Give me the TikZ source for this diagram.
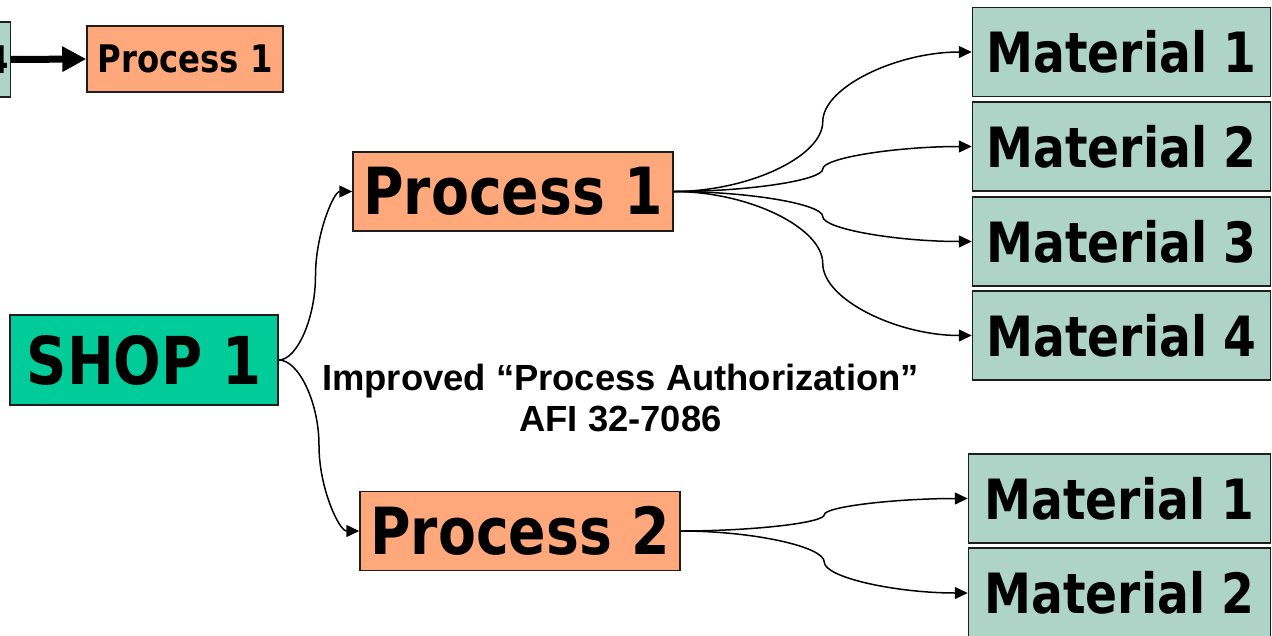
\documentclass[tikz,border=0pt]{standalone}
\usepackage{fontspec}
\newfontfamily\tahfont{DejaVu Sans}[FakeStretch=0.85]
\newfontfamily\arialfont{Liberation Sans}
\usetikzlibrary{calc,arrows.meta}
\definecolor{procfill}{RGB}{255,168,124}
\definecolor{shopfill}{RGB}{0,204,153}
\definecolor{matfill}{RGB}{174,212,200}
\definecolor{edgecol}{RGB}{30,30,30}
\tikzset{
  box/.style={draw=edgecol, line width=1.5pt, rectangle, inner sep=0pt, text=black},
  procbig/.style={box, fill=procfill, minimum width=320pt, minimum height=79pt,
    font=\tahfont\bfseries\fontsize{65pt}{70pt}\selectfont},
  procsmall/.style={box, fill=procfill, minimum width=196pt, minimum height=66pt,
    font=\tahfont\bfseries\fontsize{38pt}{42pt}\selectfont},
  shopbox/.style={box, fill=shopfill, minimum width=268pt, minimum height=90pt,
    font=\tahfont\bfseries\fontsize{66pt}{70pt}\selectfont},
  matbox/.style={box, fill=matfill, minimum width=298pt, minimum height=89pt,
    font=\tahfont\bfseries\fontsize{55.5pt}{60pt}\selectfont},
  conn/.style={draw=black, line width=1.5pt, -{Triangle[length=13pt,width=12pt]}},
  thickconn/.style={draw=black, line width=7pt, -{Triangle[length=24pt,width=24pt]}},
  note/.style={font=\arialfont\bfseries\fontsize{36.4pt}{41pt}\selectfont, align=center, inner sep=0pt}
}
\newcommand{\conncurve}[2]{%
  \draw[conn] let \p1=(#1), \p2=(#2) in
    (\p1) .. controls ({(3*\x1+\x2)/4},\y1) and ({(\x1+\x2)/2},{(3*\y1+\y2)/4})
    .. ({(\x1+\x2)/2},{(\y1+\y2)/2})
    .. controls ({(\x1+\x2)/2},{(\y1+3*\y2)/4}) and ({(\x1+3*\x2)/4},\y2) .. (\p2);}
\begin{document}
\begin{tikzpicture}[x=1pt,y=-1pt]
  \useasboundingbox (0,0) rectangle (1272,635);
  % partial box at top left
  \node[box, fill=matfill, minimum height=75pt, inner xsep=1pt, anchor=east,
    font=\tahfont\bfseries\fontsize{38pt}{42pt}\selectfont] (m4part) at (11,59.5) {Material 4};
  \node[procsmall] (psmall) at (185,59) {Process 1};
  \draw[thickconn] (m4part.east) -- (psmall.west);

  \node[shopbox] (shop) at (144,360) {SHOP 1};
  \node[procbig] (p1) at (513,191.5) {Process 1};
  \node[procbig] (p2) at (520,531) {Process 2};

  \node[matbox] (m1) at (1121.5,52) {Material 1};
  \node[matbox] (m2) at (1121.5,146.5) {Material 2};
  \node[matbox] (m3) at (1121.5,241.5) {Material 3};
  \node[matbox] (m4) at (1121.5,335.5) {Material 4};

  \node[matbox, minimum width=302pt] (n1) at (1119.5,498.5) {Material 1};
  \node[matbox, minimum width=302pt, minimum height=90pt] (n2) at (1119.5,593) {Material 2};

  \node[note, anchor=base] (lbl) at (620.5,431) {Improved “Process Authorization”\\AFI 32-7086};

  \conncurve{shop.east}{p1.west}
  \conncurve{shop.east}{p2.west}
  \conncurve{p1.east}{m1.west}
  \conncurve{p1.east}{m2.west}
  \conncurve{p1.east}{m3.west}
  \conncurve{p1.east}{m4.west}
  \conncurve{p2.east}{n1.west}
  \conncurve{p2.east}{n2.west}
\end{tikzpicture}
\end{document}
